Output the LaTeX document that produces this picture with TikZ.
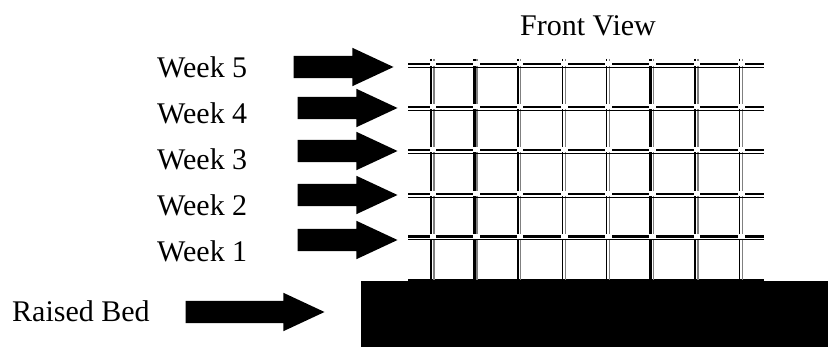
\documentclass[tikz,border=0pt]{standalone}
\usepackage{fontspec}
\setmainfont{Liberation Serif}
\usetikzlibrary{shapes.arrows}
\tikzset{
  weeklabel/.style={anchor=west, inner sep=0pt, font=\fontsize{30}{30}\selectfont},
  blockarrow/.style={single arrow, anchor=tip, fill=black, inner xsep=0pt, inner ysep=11pt, minimum width=38pt, minimum height=100pt, single arrow head extend=8pt, single arrow tip angle=50},
  wirethick/.style={line width=2.5pt},
  wirethin/.style={line width=1pt},
  wiregray/.style={line width=1.5pt, color=black!50}
}
\begin{document}
\begin{tikzpicture}[x=1pt, y=-1pt]
\useasboundingbox (0, 0) rectangle (828, 347);

% Raised bed
\fill (361, 281) rectangle (828, 347);
\fill (408, 279) rectangle (764, 282);

% Horizontal wires, thick part
\draw[wirethick] (408, 64) -- (764, 64);
\draw[wirethick] (408, 107) -- (764, 107);
\draw[wirethick] (408, 150) -- (764, 150);
\draw[wirethick] (408, 194) -- (764, 194);
\draw[wirethick] (408, 236.5) -- (764, 236.5);

% Vertical wires, black on the left and gray on the right
\draw[line width=2.3pt] (431, 59) -- (431, 280);
\draw[wiregray] (434, 59) -- (434, 280);
\draw[line width=2.7pt] (474.5, 59) -- (474.5, 280);
\draw[line width=2.5pt, color=black!50] (477, 59) -- (477, 280);
\draw[line width=2.7pt] (518, 59) -- (518, 280);
\draw[wiregray] (520.5, 59) -- (520.5, 280);
\draw[line width=1.8pt] (562.5, 59) -- (562.5, 280);
\draw[wiregray] (565.5, 59) -- (565.5, 280);
\draw[line width=1.8pt] (606.5, 59) -- (606.5, 280);
\draw[wiregray] (609.5, 59) -- (609.5, 280);
\draw[line width=2.7pt] (650.5, 59) -- (650.5, 280);
\draw[wiregray] (653.5, 59) -- (653.5, 280);
\draw[line width=2.7pt] (695, 59) -- (695, 280);
\draw[wiregray] (698, 59) -- (698, 280);
\draw[line width=1.8pt] (739.5, 59) -- (739.5, 280);
\draw[wiregray] (742.5, 59) -- (742.5, 280);

% White gaps where the wires cross
\foreach \rowy in {64, 107, 150, 194, 236.5} {
  \foreach \colx in {431, 474.5, 518, 562.5, 606.5, 650.5, 695, 739.5} {
    \fill[white] (\colx-1.5, \rowy-2.5) rectangle (\colx+5, \rowy+2.5);
  }
}

% Horizontal wires, thin part
\draw[wirethin] (408, 67.5) -- (764, 67.5);
\draw[wirethin] (408, 110.5) -- (764, 110.5);
\draw[wirethin] (408, 153.5) -- (764, 153.5);
\draw[wirethin] (408, 197.5) -- (764, 197.5);
\draw[wirethin] (408, 240) -- (764, 240);

% Block arrows
\node[blockarrow] (arrowfive) at (394, 67) {};
\node[blockarrow] (arrowfour) at (398, 108) {};
\node[blockarrow] (arrowthree) at (398, 151) {};
\node[blockarrow] (arrowtwo) at (398, 195) {};
\node[blockarrow] (arrowone) at (398, 240) {};
\node[blockarrow, minimum height=139pt] (arrowbed) at (325, 312) {};

% Labels
\node[weeklabel] (weekfive) at (157, 67) {Week 5};
\node[weeklabel] (weekfour) at (157, 113) {Week 4};
\node[weeklabel] (weekthree) at (157, 159) {Week 3};
\node[weeklabel] (weektwo) at (157, 205) {Week 2};
\node[weeklabel] (weekone) at (157, 251) {Week 1};
\node[weeklabel] (bedlabel) at (12, 311) {Raised Bed};
\node[weeklabel] (frontview) at (520, 26) {Front View};
\end{tikzpicture}
\end{document}
